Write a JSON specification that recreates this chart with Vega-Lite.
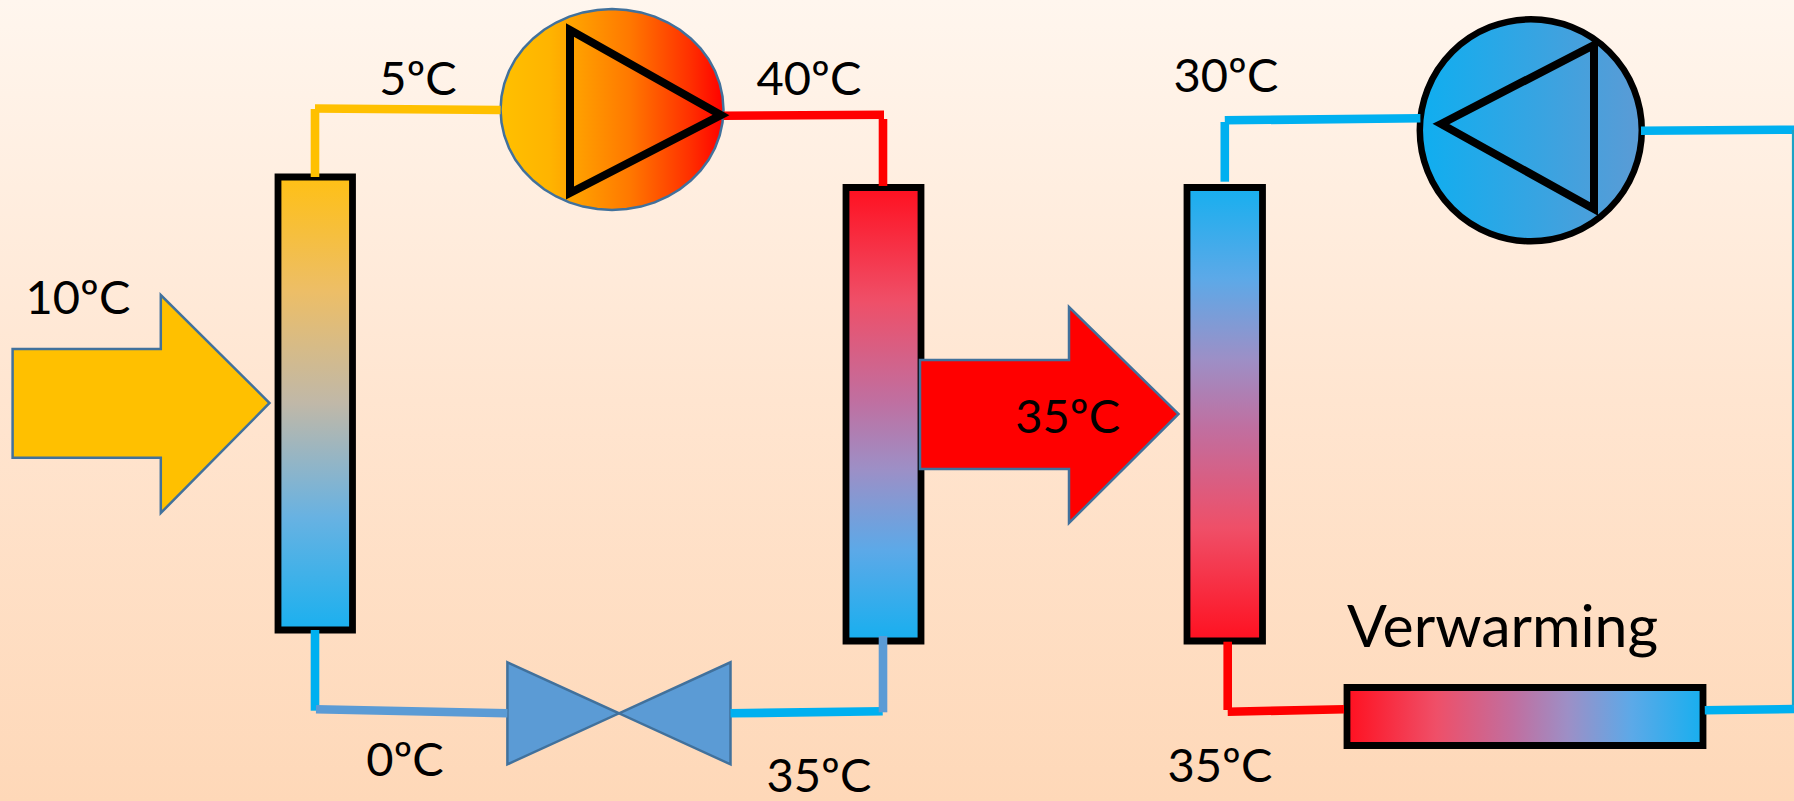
{"$schema":"https://vega.github.io/schema/vega-lite/v6.json","autosize":{"type":"none"},"width":1794,"height":801,"padding":0,"background":"#FFEBDB","view":{"stroke":null},"encoding":{"x":{"field":"x","type":"quantitative","axis":null,"scale":{"domain":[0,1794],"nice":false,"zero":false}},"y":{"field":"y","type":"quantitative","axis":null,"scale":{"domain":[801,0],"nice":false,"zero":false}}},"layer":[
{"data":{"values":[{"x":0,"x2":1794,"y":0,"y2":801}]},"mark":{"type":"rect","fill":{"gradient":"linear","x1":0,"y1":0,"x2":0,"y2":1,"stops":[{"offset":0,"color":"#FFF6EE"},{"offset":0.5,"color":"#FFE5D0"},{"offset":1,"color":"#FED8B8"}]}},"encoding":{"x2":{"field":"x2"},"y2":{"field":"y2"}}},
{"data":{"values":[{"x":278,"x2":352.5,"y":177,"y2":630}]},"mark":{"type":"rect","stroke":"#000000","strokeWidth":6.8,"fill":{"gradient":"linear","x1":0,"y1":0,"x2":0,"y2":1,"stops":[{"offset":0,"color":"#FFC015"},{"offset":0.25,"color":"#EDBE66"},{"offset":0.5,"color":"#C0B8A8"},{"offset":0.75,"color":"#68B2E2"},{"offset":1,"color":"#1AB0EF"}]}},"encoding":{"x2":{"field":"x2"},"y2":{"field":"y2"}}},
{"data":{"values":[{"x":846,"x2":921,"y":187.5,"y2":641}]},"mark":{"type":"rect","stroke":"#000000","strokeWidth":6.8,"fill":{"gradient":"linear","x1":0,"y1":0,"x2":0,"y2":1,"stops":[{"offset":0,"color":"#FF1020"},{"offset":0.25,"color":"#EF4F68"},{"offset":0.47,"color":"#C06FA0"},{"offset":0.62,"color":"#9D8FC6"},{"offset":0.8,"color":"#5CA9E8"},{"offset":1,"color":"#17AFEF"}]}},"encoding":{"x2":{"field":"x2"},"y2":{"field":"y2"}}},
{"data":{"values":[{"x":1187,"x2":1262.5,"y":187.5,"y2":641}]},"mark":{"type":"rect","stroke":"#000000","strokeWidth":6.8,"fill":{"gradient":"linear","x1":0,"y1":1,"x2":0,"y2":0,"stops":[{"offset":0,"color":"#FF1020"},{"offset":0.25,"color":"#EF4F68"},{"offset":0.47,"color":"#C06FA0"},{"offset":0.62,"color":"#9D8FC6"},{"offset":0.8,"color":"#5CA9E8"},{"offset":1,"color":"#17AFEF"}]}},"encoding":{"x2":{"field":"x2"},"y2":{"field":"y2"}}},
{"data":{"values":[{"x":1347,"x2":1703,"y":687.5,"y2":745.5}]},"mark":{"type":"rect","stroke":"#000000","strokeWidth":6.8,"fill":{"gradient":"linear","x1":0,"y1":0,"x2":1,"y2":0,"stops":[{"offset":0,"color":"#FF1020"},{"offset":0.25,"color":"#EF4F68"},{"offset":0.47,"color":"#C06FA0"},{"offset":0.62,"color":"#9D8FC6"},{"offset":0.8,"color":"#5CA9E8"},{"offset":1,"color":"#17AFEF"}]}},"encoding":{"x2":{"field":"x2"},"y2":{"field":"y2"}}},
{"data":{"values":[{"x":12.6,"y":349,"y2":457.7},{"x":160.8,"y":349,"y2":457.7},{"x":160.8,"y":295,"y2":513},{"x":269.5,"y":403,"y2":403}]},"mark":{"type":"area","fill":"#FFC000","stroke":"#41719C","strokeWidth":2.5},"encoding":{"y2":{"field":"y2"}}},
{"data":{"values":[{"x":920,"y":360,"y2":469},{"x":1069,"y":360,"y2":469},{"x":1069,"y":307,"y2":523},{"x":1178.5,"y":414,"y2":414}]},"mark":{"type":"area","fill":"#FF0000","stroke":"#41719C","strokeWidth":2.5},"encoding":{"y2":{"field":"y2"}}},
{"data":{"values":[{"x":507.4,"y":662.3,"y2":764.3},{"x":619,"y":713.3,"y2":713.3}]},"mark":{"type":"area","fill":"#5B9BD5","stroke":"#41719C","strokeWidth":2.5},"encoding":{"y2":{"field":"y2"}}},
{"data":{"values":[{"x":619,"y":713.3,"y2":713.3},{"x":730.5,"y":662.3,"y2":764.3}]},"mark":{"type":"area","fill":"#5B9BD5","stroke":"#41719C","strokeWidth":2.5},"encoding":{"y2":{"field":"y2"}}},
{"data":{"values":[{"x":500.5,"y":109.5,"y2":109.5},{"x":501.5,"y":96.4,"y2":122.6},{"x":504.3,"y":83.5,"y2":135.5},{"x":509,"y":71,"y2":148},{"x":515.4,"y":59.2,"y2":159.8},{"x":523.5,"y":48.3,"y2":170.7},{"x":533.2,"y":38.4,"y2":180.6},{"x":544.1,"y":29.8,"y2":189.2},{"x":556.2,"y":22.5,"y2":196.5},{"x":569.3,"y":16.6,"y2":202.4},{"x":583.1,"y":12.4,"y2":206.6},{"x":597.4,"y":9.9,"y2":209.1},{"x":612,"y":9,"y2":210},{"x":626.6,"y":9.9,"y2":209.1},{"x":640.9,"y":12.4,"y2":206.6},{"x":654.7,"y":16.6,"y2":202.4},{"x":667.8,"y":22.5,"y2":196.5},{"x":679.9,"y":29.8,"y2":189.2},{"x":690.8,"y":38.4,"y2":180.6},{"x":700.5,"y":48.3,"y2":170.7},{"x":708.6,"y":59.2,"y2":159.8},{"x":715,"y":71,"y2":148},{"x":719.7,"y":83.5,"y2":135.5},{"x":722.5,"y":96.4,"y2":122.6},{"x":723.5,"y":109.5,"y2":109.5}]},"mark":{"type":"area","stroke":"#41719C","strokeWidth":2.5,"fill":{"gradient":"linear","x1":0,"y1":0,"x2":1,"y2":0,"stops":[{"offset":0,"color":"#FFC000"},{"offset":0.22,"color":"#FFB400"},{"offset":0.58,"color":"#FF7800"},{"offset":0.85,"color":"#FF3000"},{"offset":1,"color":"#FF0000"}]}},"encoding":{"y2":{"field":"y2"}}},
{"data":{"values":[{"x":1530.8,"y":130.3}]},"mark":{"type":"circle","size":49284,"opacity":1,"stroke":"#000000","strokeWidth":6.5,"fill":{"gradient":"linear","x1":0,"y1":0,"x2":1,"y2":0,"stops":[{"offset":0,"color":"#0FAEF0"},{"offset":1,"color":"#5B9BD5"}]}}},
{"data":{"values":[{"piece":"orange up","kind":"orange","x":315,"y":177,"x2":315,"y2":109},{"piece":"orange across","kind":"orange","x":315,"y":108.5,"x2":500.6,"y2":110},{"piece":"red across","kind":"red","x":723.7,"y":115.7,"x2":884,"y2":114.7},{"piece":"red down","kind":"red","x":883,"y":119,"x2":883,"y2":186},{"piece":"cold down","kind":"blue","x":315,"y":630,"x2":315,"y2":710.7},{"piece":"cold across","kind":"steel","x":316,"y":709.3,"x2":507.4,"y2":713.3},{"piece":"liquid across","kind":"blue","x":730.5,"y":713.3,"x2":882.7,"y2":711.3},{"piece":"liquid down","kind":"steel","x":883,"y":636,"x2":883,"y2":712.3},{"piece":"return up","kind":"blue","x":1224.8,"y":181.7,"x2":1224.8,"y2":122},{"piece":"return across","kind":"blue","x":1224.8,"y":120.3,"x2":1420.4,"y2":118.3},{"piece":"pump out","kind":"blue","x":1641,"y":130.7,"x2":1794,"y2":129.7},{"piece":"radiator out","kind":"blue","x":1704.8,"y":710.3,"x2":1794,"y2":709},{"piece":"supply down","kind":"red","x":1227.7,"y":641.7,"x2":1227.7,"y2":710},{"piece":"supply across","kind":"red","x":1227.7,"y":711.7,"x2":1344,"y2":709.3}]},"mark":{"type":"rule","strokeWidth":8.6},"encoding":{"x2":{"field":"x2"},"y2":{"field":"y2"},"detail":{"field":"piece"},"color":{"field":"kind","type":"nominal","legend":null,"scale":{"domain":["orange","red","blue","steel"],"range":["#FFC000","#FF0000","#00B0F0","#5B9BD5"]}}}},
{"data":{"values":[{"x":1793,"y":130,"x2":1793,"y2":705}]},"mark":{"type":"rule","strokeWidth":2.2,"color":"#1BA3C6"},"encoding":{"x2":{"field":"x2"},"y2":{"field":"y2"}}},
{"data":{"values":[{"x":570,"y":30,"y2":193},{"x":721,"y":115,"y2":115}]},"mark":{"type":"area","fillOpacity":0,"fill":"#000000","stroke":"#000000","strokeWidth":8},"encoding":{"y2":{"field":"y2"}}},
{"data":{"values":[{"x":1441,"y":124,"y2":124},{"x":1594,"y":45,"y2":209}]},"mark":{"type":"area","fillOpacity":0,"fill":"#000000","stroke":"#000000","strokeWidth":8},"encoding":{"y2":{"field":"y2"}}},
{"data":{"values":[{"x":78,"y":313.5,"label":"10ºC"},{"x":418,"y":94.5,"label":"5ºC"},{"x":809,"y":94.5,"label":"40ºC"},{"x":1226,"y":91.5,"label":"30ºC"},{"x":1067.7,"y":432.5,"label":"35ºC"},{"x":405,"y":776,"label":"0ºC"},{"x":819,"y":792,"label":"35ºC"},{"x":1220,"y":781.5,"label":"35ºC"}]},"mark":{"type":"text","font":"Lato","fontSize":47,"align":"center","baseline":"alphabetic","color":"#000000"},"encoding":{"text":{"field":"label"}}},
{"data":{"values":[{"x":1502.6,"y":647,"label":"Verwarming"}]},"mark":{"type":"text","font":"Lato","fontSize":59,"align":"center","baseline":"alphabetic","color":"#000000"},"encoding":{"text":{"field":"label"}}}
]}
